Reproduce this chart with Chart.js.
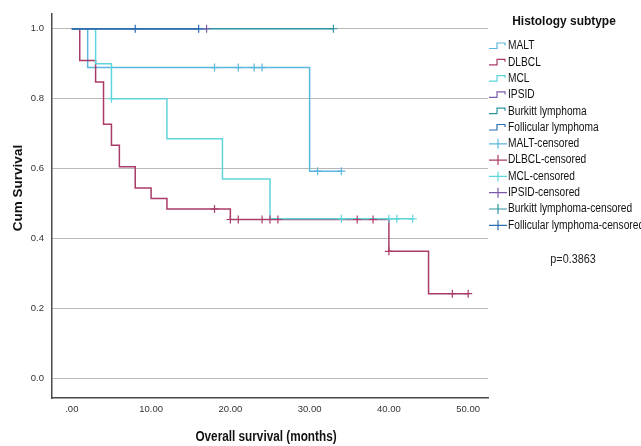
<!DOCTYPE html>
<html>
<head>
<meta charset="utf-8">
<script src="https://cdn.jsdelivr.net/npm/chart.js@4.4.1/dist/chart.umd.min.js"></script>
<style>
  html, body { margin: 0; padding: 0; background: #fff; }
  #wrap { width: 641px; height: 446px; }
</style>
</head>
<body>
<div id="wrap"><canvas id="km"></canvas></div>
<script>
// groups, colours
const groups = ['MALT', 'DLBCL', 'MCL', 'IPSID', 'Burkitt lymphoma', 'Follicular lymphoma'];
const groupColors = ['#5cb6de', '#a93b68', '#5ed5dc', '#7b5ba9', '#2c94a0', '#2b6db2'];

// step curves: event times and survival after each time
const maltTimes = [0, 2, 30, 34];
const maltSurv = [1, 0.889, 0.593, 0.593];
const maltCensored = [18, 21, 23, 24, 31, 34];

const dlbclTimes = [0, 1, 3, 4, 5, 6, 8, 10, 12, 20, 40, 45, 50];
const dlbclSurv = [1, 0.909, 0.848, 0.727, 0.667, 0.606, 0.545, 0.515, 0.485, 0.455, 0.364, 0.243, 0.243];
const dlbclCensored = [18, 20, 21, 24, 25, 26, 36, 38, 40, 48, 50];

const mclTimes = [0, 3, 5, 12, 19, 25, 43];
const mclSurv = [1, 0.9, 0.8, 0.686, 0.571, 0.457, 0.457];
const mclCensored = [5, 34, 40, 41, 43];

const ipsidTimes = [0, 17];
const ipsidSurv = [1, 1];
const ipsidCensored = [17];

const burkittTimes = [0, 33];
const burkittSurv = [1, 1];
const burkittCensored = [33];

const follTimes = [0, 16];
const follSurv = [1, 1];
const follCensored = [8, 16];

const xTickValues = [0, 10, 20, 30, 40, 50];
const xTickLabels = ['.00', '10.00', '20.00', '30.00', '40.00', '50.00'];
const yTickValues = [0, 0.2, 0.4, 0.6, 0.8, 1.0];
const yTickLabels = ['0.0', '0.2', '0.4', '0.6', '0.8', '1.0'];
const xTitle = 'Overall survival (months)';
const yTitle = 'Cum Survival';
const legendTitle = 'Histology subtype';
const pValueText = 'p=0.3863';

const curves = [
  [maltTimes, maltSurv, maltCensored],
  [dlbclTimes, dlbclSurv, dlbclCensored],
  [mclTimes, mclSurv, mclCensored],
  [ipsidTimes, ipsidSurv, ipsidCensored],
  [burkittTimes, burkittSurv, burkittCensored],
  [follTimes, follSurv, follCensored]
];

function survAt(times, surv, t) {
  let s = surv[0];
  for (let i = 0; i < times.length; i++) {
    if (times[i] <= t) s = surv[i];
  }
  return s;
}

const fam = '"Liberation Sans", Arial, sans-serif';
Chart.defaults.font.family = fam;

const datasets = [];
curves.forEach((c, i) => {
  datasets.push({
    type: 'line',
    label: groups[i],
    data: c[0].map((t, k) => ({ x: t, y: c[1][k] })),
    borderColor: groupColors[i],
    borderWidth: 1.5,
    stepped: true,
    pointRadius: 0,
    fill: false,
    order: 10 - i
  });
});
curves.forEach((c, i) => {
  datasets.push({
    type: 'scatter',
    label: groups[i] + '-censored',
    data: c[2].map(t => ({ x: t, y: survAt(c[0], c[1], t) })),
    borderColor: groupColors[i],
    backgroundColor: groupColors[i],
    pointStyle: 'cross',
    pointRadius: 4,
    borderWidth: 1.2,
    order: 0
  });
});

// narrow text: squeeze horizontally like the original export
function narrowText(ctx, text, x, y, squeeze) {
  const w = ctx.measureText(text).width;
  ctx.fillText(text, x, y, w * squeeze);
}

const textPlugin = {
  id: 'kmText',
  afterDraw(chart) {
    const ctx = chart.ctx;
    ctx.save();
    ctx.fillStyle = '#111';
    ctx.textBaseline = 'middle';

    // axis titles
    ctx.textAlign = 'center';
    ctx.font = 'bold 14px ' + fam;
    narrowText(ctx, xTitle, 266, 437, 0.84);
    ctx.save();
    ctx.translate(18, 188);
    ctx.rotate(-Math.PI / 2);
    ctx.font = 'bold 13.5px ' + fam;
    ctx.fillText(yTitle, 0, 0);
    ctx.restore();

    // legend
    ctx.font = 'bold 13px ' + fam;
    narrowText(ctx, legendTitle, 564, 21, 0.92);

    const x0 = 489, y0 = 46, step = 16.3;
    ctx.font = '12px ' + fam;
    ctx.textAlign = 'left';
    const labels = groups.concat(groups.map(g => g + '-censored'));
    labels.forEach((lab, i) => {
      const y = y0 + i * step;
      const col = groupColors[i % groups.length];
      ctx.strokeStyle = col;
      ctx.lineWidth = 1.2;
      ctx.beginPath();
      if (i < groups.length) {
        ctx.moveTo(x0, y + 2.5);
        ctx.lineTo(x0 + 8, y + 2.5);
        ctx.lineTo(x0 + 8, y - 3);
        ctx.lineTo(x0 + 16, y - 3);
        ctx.lineTo(x0 + 16, y - 0.5);
      } else {
        ctx.moveTo(x0, y);
        ctx.lineTo(x0 + 18, y);
        ctx.moveTo(x0 + 9, y - 5);
        ctx.lineTo(x0 + 9, y + 5);
      }
      ctx.stroke();
      ctx.fillStyle = '#111';
      narrowText(ctx, lab, x0 + 19, y, 0.85);
    });

    ctx.textAlign = 'center';
    ctx.font = '12px ' + fam;
    ctx.fillStyle = '#222';
    narrowText(ctx, pValueText, 573, 260, 0.9);
    ctx.restore();
  }
};

new Chart(document.getElementById('km'), {
  data: { datasets: datasets },
  options: {
    responsive: true,
    maintainAspectRatio: false,
    animation: false,
    layout: { autoPadding: false, padding: { top: 7, right: 153, left: 0, bottom: 0 } },
    plugins: {
      legend: { display: false },
      tooltip: { enabled: false }
    },
    scales: {
      x: {
        type: 'linear',
        min: -2.5,
        max: 52.5,
        afterBuildTicks: axis => { axis.ticks = xTickValues.map(v => ({ value: v })); },
        afterFit: axis => { axis.height = 48; },
        ticks: {
          padding: 6,
          color: '#333',
          font: { size: 9.5 },
          maxRotation: 0,
          callback: v => xTickLabels[xTickValues.indexOf(v)]
        },
        grid: { display: false, drawTicks: false },
        border: { display: true, color: '#4a4a4a', width: 1.5 }
      },
      y: {
        type: 'linear',
        min: -0.055,
        max: 1.043,
        afterBuildTicks: axis => { axis.ticks = yTickValues.map(v => ({ value: v })); },
        afterFit: axis => { axis.width = 52; },
        ticks: {
          padding: 8,
          color: '#333',
          font: { size: 9.5 },
          callback: v => yTickLabels[yTickValues.indexOf(v)]
        },
        grid: { color: '#b8b8b8', lineWidth: 1, drawTicks: false },
        border: { display: true, color: '#4a4a4a', width: 1.5 }
      }
    }
  },
  plugins: [textPlugin]
});
</script>
</body>
</html>
